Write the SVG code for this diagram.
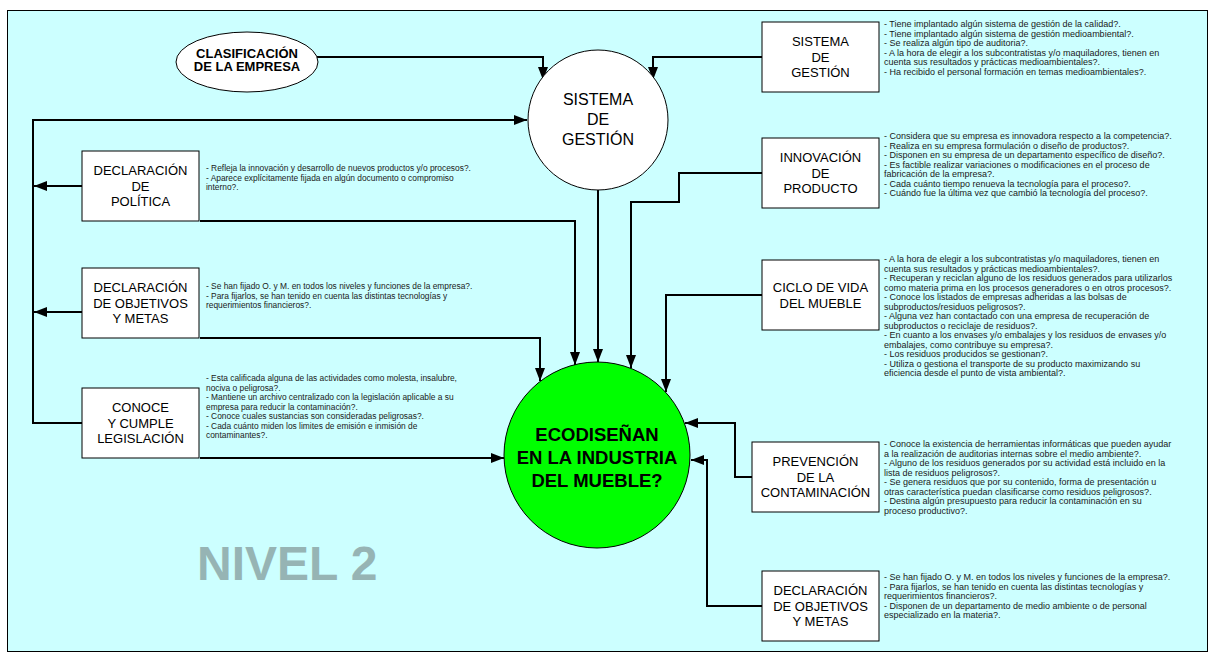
<svg xmlns="http://www.w3.org/2000/svg" width="1213" height="657" viewBox="0 0 1213 657">
<defs>
<marker id="ah" viewBox="0 0 13 10" refX="13" refY="5" markerWidth="13" markerHeight="10" markerUnits="userSpaceOnUse" orient="auto">
<path d="M0,0 L13,5 L0,10 z" fill="#000"/>
</marker>
<style>
.bx{fill:#fff;stroke:#000;stroke-width:1}
.lb{font-family:"Liberation Sans",Arial,sans-serif;font-size:13px;fill:#000;text-anchor:middle}
.lc{font-family:"Liberation Sans",Arial,sans-serif;font-size:16px;fill:#000;text-anchor:middle}
.lg{font-family:"Liberation Sans",Arial,sans-serif;font-size:18.5px;font-weight:bold;fill:#000;text-anchor:middle}
.q{font-family:"Liberation Sans",Arial,sans-serif;font-size:8.4px;fill:#1a1a1a}
.qr{font-family:"Liberation Sans",Arial,sans-serif;font-size:9px;fill:#1a1a1a}
.c{fill:none;stroke:#000;stroke-width:2;marker-end:url(#ah)}
</style>
</defs>
<rect x="0" y="0" width="1213" height="657" fill="#fff"/>
<rect x="7.5" y="10.5" width="1200" height="641" fill="#CCFFFF" stroke="#000" stroke-width="1"/>
<text x="197" y="580" font-family="Liberation Sans,Arial,sans-serif" font-size="48" font-weight="bold" fill="#96B4B4">NIVEL 2</text>

<g id="connectors">
<path class="c" d="M317,57 H543 V80"/>
<path class="c" d="M762,57 H653 V80"/>
<path class="c" d="M82,423 H33 V120 H527"/>
<path class="c" d="M82,186 H34"/>
<path class="c" d="M82,312 H34"/>
<path class="c" d="M200,221 H575 V365"/>
<path class="c" d="M200,338 H540 V381"/>
<path class="c" d="M200,458 H504"/>
<path class="c" d="M598,190 V362"/>
<path class="c" d="M762,173 H679 V202 H631 V368"/>
<path class="c" d="M762,295 H666 V392"/>
<path class="c" d="M752,477 H735 V423 H685"/>
<path class="c" d="M762,606 H707 V460 H691"/>
</g>

<g id="clasificacion">
<ellipse cx="247" cy="62" rx="71" ry="30" fill="#fff" stroke="#000" stroke-width="1"/>
<text class="lb" x="247" y="58" font-weight="bold">CLASIFICACIÓN</text>
<text class="lb" x="247" y="71" font-weight="bold">DE LA EMPRESA</text>
</g>

<g id="sistema-circulo">
<circle cx="598" cy="120" r="70" fill="#fff" stroke="#000" stroke-width="1"/>
<text class="lc" x="598" y="105">SISTEMA</text>
<text class="lc" x="598" y="125">DE</text>
<text class="lc" x="598" y="145">GESTIÓN</text>
</g>

<g id="ecodisenan">
<circle cx="597" cy="455" r="93" fill="#00FF00" stroke="#000" stroke-width="1"/>
<text class="lg" x="597" y="441">ECODISEÑAN</text>
<text class="lg" x="597" y="464">EN LA INDUSTRIA</text>
<text class="lg" x="597" y="487">DEL MUEBLE?</text>
</g>

<g id="sistema-gestion">
<rect class="bx" x="762" y="22" width="117" height="70"/>
<text class="lb" x="820.5" y="46">SISTEMA</text>
<text class="lb" x="820.5" y="61.5">DE</text>
<text class="lb" x="820.5" y="77">GESTIÓN</text>
<text class="qr">
<tspan x="884" y="27">- Tiene implantado algún sistema de gestión de la calidad?.</tspan>
<tspan x="884" y="36.5">- Tiene implantado algún sistema de gestión medioambiental?.</tspan>
<tspan x="884" y="46">- Se realiza algún tipo de auditoria?.</tspan>
<tspan x="884" y="55.5">- A la hora de elegir a los subcontratistas y/o maquiladores, tienen en</tspan>
<tspan x="884" y="65">cuenta sus resultados y prácticas medioambientales?.</tspan>
<tspan x="884" y="74.5">- Ha recibido el personal formación en temas medioambientales?.</tspan>
</text>
</g>

<g id="innovacion">
<rect class="bx" x="762" y="138" width="117" height="70"/>
<text class="lb" x="820.5" y="162">INNOVACIÓN</text>
<text class="lb" x="820.5" y="177.5">DE</text>
<text class="lb" x="820.5" y="193">PRODUCTO</text>
<text class="qr">
<tspan x="884" y="139">- Considera que su empresa es innovadora respecto a la competencia?.</tspan>
<tspan x="884" y="148.5">- Realiza en su empresa formulación o diseño de productos?.</tspan>
<tspan x="884" y="158">- Disponen en su empresa de un departamento específico de diseño?.</tspan>
<tspan x="884" y="167.5">- Es factible realizar variaciones o modificaciones en el proceso de</tspan>
<tspan x="884" y="177">fabricación de la empresa?.</tspan>
<tspan x="884" y="186.5">- Cada cuánto tiempo renueva la tecnología para el proceso?.</tspan>
<tspan x="884" y="196">- Cuándo fue la última vez que cambió la tecnología del proceso?.</tspan>
</text>
</g>

<g id="ciclo-vida">
<rect class="bx" x="762" y="260" width="117" height="70"/>
<text class="lb" x="820.5" y="292">CICLO DE VIDA</text>
<text class="lb" x="820.5" y="307.5">DEL MUEBLE</text>
<text class="qr">
<tspan x="884" y="262">- A la hora de elegir a los subcontratistas y/o maquiladores, tienen en</tspan>
<tspan x="884" y="271.5">cuenta sus resultados y prácticas medioambientales?.</tspan>
<tspan x="884" y="281">- Recuperan y reciclan alguno de los residuos generados para utilizarlos</tspan>
<tspan x="884" y="290.5">como materia prima en los procesos generadores o en otros procesos?.</tspan>
<tspan x="884" y="300">- Conoce los listados de empresas adheridas a las bolsas de</tspan>
<tspan x="884" y="309.5">subproductos/residuos peligrosos?.</tspan>
<tspan x="884" y="319">- Alguna vez han contactado con una empresa de recuperación de</tspan>
<tspan x="884" y="328.5">subproductos o reciclaje de residuos?.</tspan>
<tspan x="884" y="338">- En cuanto a los envases y/o embalajes y los residuos de envases y/o</tspan>
<tspan x="884" y="347.5">embalajes, como contribuye su empresa?.</tspan>
<tspan x="884" y="357">- Los residuos producidos se gestionan?.</tspan>
<tspan x="884" y="366.5">- Utiliza o gestiona el transporte de su producto maximizando su</tspan>
<tspan x="884" y="376">eficiencia desde el punto de vista ambiental?.</tspan>
</text>
</g>

<g id="prevencion">
<rect class="bx" x="752" y="442" width="127" height="70"/>
<text class="lb" x="815.5" y="466">PREVENCIÓN</text>
<text class="lb" x="815.5" y="481.5">DE LA</text>
<text class="lb" x="815.5" y="497">CONTAMINACIÓN</text>
<text class="qr">
<tspan x="884" y="447">- Conoce la existencia de herramientas informáticas que pueden ayudar</tspan>
<tspan x="884" y="456.5">a la realización de auditorias internas sobre el medio ambiente?.</tspan>
<tspan x="884" y="466">- Alguno de los residuos generados por su actividad está incluido en la</tspan>
<tspan x="884" y="475.5">lista de residuos peligrosos?.</tspan>
<tspan x="884" y="485">- Se genera residuos que por su contenido, forma de presentación u</tspan>
<tspan x="884" y="494.5">otras característica puedan clasificarse como residuos peligrosos?.</tspan>
<tspan x="884" y="504">- Destina algún presupuesto para reducir la contaminación en su</tspan>
<tspan x="884" y="513.5">proceso productivo?.</tspan>
</text>
</g>

<g id="declaracion-objetivos-der">
<rect class="bx" x="762" y="571" width="117" height="70"/>
<text class="lb" x="820.5" y="595">DECLARACIÓN</text>
<text class="lb" x="820.5" y="610.5">DE OBJETIVOS</text>
<text class="lb" x="820.5" y="626">Y METAS</text>
<text class="qr">
<tspan x="884" y="580">- Se han fijado O. y M. en todos los niveles y funciones de la empresa?.</tspan>
<tspan x="884" y="589.5">- Para fijarlos, se han tenido en cuenta las distintas tecnologías y</tspan>
<tspan x="884" y="599">requerimientos financieros?.</tspan>
<tspan x="884" y="608.5">- Disponen de un departamento de medio ambiente o de personal</tspan>
<tspan x="884" y="618">especializado en la materia?.</tspan>
</text>
</g>

<g id="declaracion-politica">
<rect class="bx" x="82" y="151" width="117" height="70"/>
<text class="lb" x="140.5" y="175">DECLARACIÓN</text>
<text class="lb" x="140.5" y="190.5">DE</text>
<text class="lb" x="140.5" y="206">POLÍTICA</text>
<text class="q">
<tspan x="206" y="171">- Refleja la innovación y desarrollo de nuevos productos y/o procesos?.</tspan>
<tspan x="206" y="180.5">- Aparece explícitamente fijada en algún documento o compromiso</tspan>
<tspan x="206" y="190">interno?.</tspan>
</text>
</g>

<g id="declaracion-objetivos-izq">
<rect class="bx" x="82" y="268" width="117" height="70"/>
<text class="lb" x="140.5" y="292">DECLARACIÓN</text>
<text class="lb" x="140.5" y="307.5">DE OBJETIVOS</text>
<text class="lb" x="140.5" y="323">Y METAS</text>
<text class="q">
<tspan x="206" y="289">- Se han fijado O. y M. en todos los niveles y funciones de la empresa?.</tspan>
<tspan x="206" y="298.5">- Para fijarlos, se han tenido en cuenta las distintas tecnologías y</tspan>
<tspan x="206" y="308">requerimientos financieros?.</tspan>
</text>
</g>

<g id="conoce-legislacion">
<rect class="bx" x="82" y="388" width="117" height="70"/>
<text class="lb" x="140.5" y="412">CONOCE</text>
<text class="lb" x="140.5" y="427.5">Y CUMPLE</text>
<text class="lb" x="140.5" y="443">LEGISLACIÓN</text>
<text class="q">
<tspan x="206" y="381">- Esta calificada alguna de las actividades como molesta, insalubre,</tspan>
<tspan x="206" y="390.5">nociva o peligrosa?.</tspan>
<tspan x="206" y="400">- Mantiene un archivo centralizado con la legislación aplicable a su</tspan>
<tspan x="206" y="409.5">empresa para reducir la contaminación?.</tspan>
<tspan x="206" y="419">- Conoce cuales sustancias son consideradas peligrosas?.</tspan>
<tspan x="206" y="428.5">- Cada cuánto miden los limites de emisión e inmisión de</tspan>
<tspan x="206" y="438">contaminantes?.</tspan>
</text>
</g>
</svg>
